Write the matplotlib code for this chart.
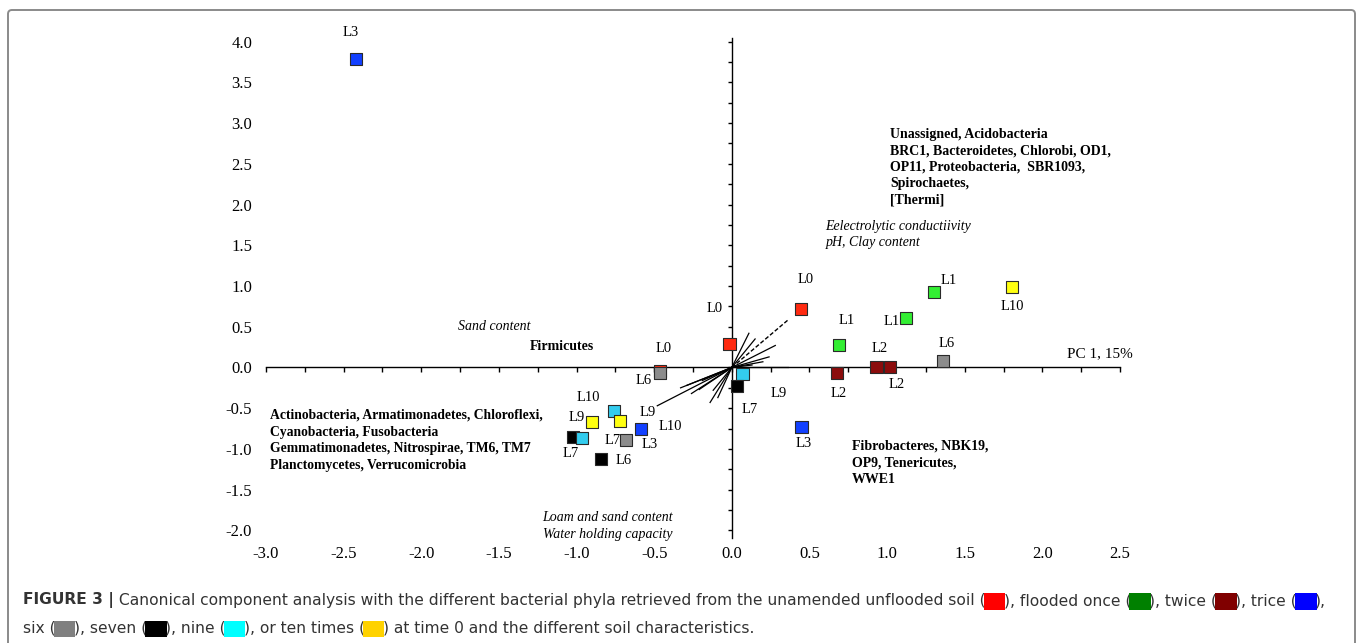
import matplotlib
matplotlib.use('Agg')
import matplotlib.pyplot as plt
import numpy as np
from matplotlib.patches import FancyBboxPatch
from matplotlib.ticker import MultipleLocator, FormatStrFormatter
from matplotlib.transforms import IdentityTransform

plt.rcParams['font.family'] = ['Liberation Serif', 'DejaVu Serif']
plt.rcParams['axes.unicode_minus'] = False

# flooding treatments: marker fill / caption swatch colour
marker_colors = {
    'unflooded': '#ff2a10', 'once': '#33ee33', 'twice': '#8b0c0c',
    'trice': '#1240ff', 'six': '#8c8c8c', 'seven': '#000000',
    'nine': '#33ccee', 'ten': '#ffff10',
}
swatch_colors = {
    'unflooded': '#ff0000', 'once': '#008000', 'twice': '#800000',
    'trice': '#0000ff', 'six': '#808080', 'seven': '#000000',
    'nine': '#00ffff', 'ten': '#ffd200',
}

# site scores
site_x = [-2.418, 0.443, -0.015, -0.46, -0.464, 0.689, 1.121, 1.300,
          1.806, 0.678, 0.932, 1.018, 1.360, 0.069, 0.034, 0.449,
          -0.760, -0.902, -0.722, -1.024, -0.966, -0.683, -0.586, -0.844]
site_y = [3.784, 0.718, 0.289, -0.045, -0.064, 0.280, 0.611, 0.923,
          0.985, -0.071, 0.010, 0.002, 0.076, -0.080, -0.227, -0.727,
          -0.534, -0.669, -0.657, -0.853, -0.866, -0.890, -0.755, -1.123]
site_group = ['trice', 'unflooded', 'unflooded', 'unflooded', 'six',
              'once', 'once', 'once', 'ten', 'twice', 'twice', 'twice',
              'six', 'nine', 'seven', 'trice', 'nine', 'ten', 'ten',
              'seven', 'nine', 'six', 'trice', 'seven']
site_label = ['L3', 'L0', 'L0', 'L0', 'L6', 'L1', 'L1', 'L1', 'L10',
              'L2', 'L2', 'L2', 'L6', 'L9', 'L7', 'L3', 'L10', 'L9', 'L9',
              'L7', 'L10', 'L7', 'L3', 'L6']
# where each label sits relative to its square, pixels (right, down)
label_offsets = [(-6, -27), (5, -29), (-15, -35), (3, -23), (-16, 8),
                 (8, -24), (-14, 4), (15, -12), (0, 19), (2, 20), (3, -18),
                 (7, 17), (4, -18), (36, 20), (13, 24), (2, 17), (-25, -13),
                 (-15, -4), (28, -8), (-2, 17), (89, -12), (-13, 1),
                 (9, 16), (23, 2)]

# biplot arrows for phyla / soil properties
vec_x = [0.11, 0.15, 0.28, 0.24, 0.20, 0.13, 0.36,
         -0.48, -0.29, -0.26, -0.19, -0.14, -0.12, -0.21, -0.09, -0.33]
vec_y = [0.42, 0.35, 0.27, 0.13, 0.07, 0.03, 0.0,
         -0.47, -0.22, -0.32, -0.16, -0.43, -0.28, -0.27, -0.37, -0.25]
dashed_x = [0.36]
dashed_y = [0.58]

fig = plt.figure(figsize=(13.6, 6.43), dpi=100)

# rounded panel border
frame = FancyBboxPatch((8, -30), 1347, 663, boxstyle='round,pad=0,rounding_size=4',
                       transform=IdentityTransform(), fc='none', ec='#8a8a8a',
                       lw=1.4, zorder=0)
fig.patches.append(frame)

ax = fig.add_axes([0.19559, 0.16376, 0.62794, 0.77776])
ax.set_xlim(-3.0, 2.5)
ax.set_ylim(-2.09, 4.05)

# axes cross through the origin; labels stay on the outer edge
ax.spines['left'].set_visible(False)
ax.spines['bottom'].set_visible(False)
ax.spines['top'].set_position(('data', 0))
ax.spines['right'].set_position(('data', 0))
for s in ('top', 'right'):
    ax.spines[s].set_linewidth(1.0)

ax.xaxis.set_minor_locator(MultipleLocator(0.25))
ax.yaxis.set_minor_locator(MultipleLocator(0.25))
ax.xaxis.remove_overlapping_locs = False
ax.yaxis.remove_overlapping_locs = False
ax.set_xticks(np.arange(-3.0, 2.51, 0.5))
ax.set_yticks(np.arange(-2.0, 4.01, 0.5))
ax.xaxis.set_major_formatter(FormatStrFormatter('%.1f'))
ax.yaxis.set_major_formatter(FormatStrFormatter('%.1f'))
ax.tick_params(axis='x', which='major', bottom=True, top=False, length=0,
               labelsize=12, pad=6)
ax.tick_params(axis='y', which='major', left=True, right=False, length=0,
               labelsize=12, pad=10)
ax.tick_params(axis='x', which='minor', bottom=False, top=True,
               direction='in', length=3.5, width=1.0)
ax.tick_params(axis='y', which='minor', left=False, right=True,
               direction='in', length=3.0, width=1.0)

# arrows from the origin
for vx, vy in zip(vec_x, vec_y):
    ax.plot([0, vx], [0, vy], color='black', lw=0.9, zorder=2)
for vx, vy in zip(dashed_x, dashed_y):
    ax.plot([0, vx], [0, vy], color='black', lw=1.0, ls=(0, (3, 1.5)), zorder=2)

# site squares
ax.scatter(site_x, site_y, marker='s', s=76,
           c=[marker_colors[g] for g in site_group],
           edgecolors='#2a2a2a', linewidths=0.8, zorder=3, clip_on=False)
for x, y, lab, (dx, dy) in zip(site_x, site_y, site_label, label_offsets):
    ax.annotate(lab, (x, y), xytext=(dx, -dy), textcoords='offset pixels',
                ha='center', va='center', fontsize=10.5, zorder=4)

# phyla and soil property annotations
note = dict(fontsize=10, linespacing=1.33)
ax.text(1.018, 2.94, 'Unassigned, Acidobacteria\nBRC1, Bacteroidetes, Chlorobi, OD1,\n'
        'OP11, Proteobacteria,  SBR1093,\nSpirochaetes,\n[Thermi]',
        fontweight='bold', ha='left', va='top', **note)
ax.text(0.604, 1.81, 'Eelectrolytic conductiivity\npH, Clay content',
        style='italic', ha='left', va='top', **note)
ax.text(-1.533, 0.509, 'Sand content', fontsize=10, style='italic',
        ha='center', va='center')
ax.text(-1.095, 0.252, 'Firmicutes', fontsize=10, fontweight='bold',
        ha='center', va='center')
ax.text(2.158, 0.166, 'PC 1, 15%', fontsize=11, ha='left', va='center')
ax.text(-2.977, -0.51, 'Actinobacteria, Armatimonadetes, Chloroflexi,\n'
        'Cyanobacteria, Fusobacteria\nGemmatimonadetes, Nitrospirae, TM6, TM7\n'
        'Planctomycetes, Verrucomicrobia',
        fontweight='bold', ha='left', va='top', fontsize=9.8, linespacing=1.35)
ax.text(0.775, -0.89, 'Fibrobacteres, NBK19,\nOP9, Tenericutes,\nWWE1',
        fontweight='bold', ha='left', va='top', **note)
ax.text(-0.799, -1.765, 'Loam and sand content\nWater holding capacity',
        style='italic', ha='center', va='top', **note)

# caption, drawn piece by piece so the colour swatches sit inline
cap_font = ['DejaVu Sans']
cap_size = 11.15
cap_color = '#333333'
block = '\u2588\u2588'

line1 = [('FIGURE 3 |', 'bold', None),
         (' Canonical component analysis with the different bacterial phyla '
          'retrieved from the unamended unflooded soil (', 'normal', None),
         (block, 'normal', 'unflooded'), ('), flooded once (', 'normal', None),
         (block, 'normal', 'once'), ('), twice (', 'normal', None),
         (block, 'normal', 'twice'), ('), trice (', 'normal', None),
         (block, 'normal', 'trice'), ('),', 'normal', None)]
line2 = [('six (', 'normal', None), (block, 'normal', 'six'),
         ('), seven (', 'normal', None), (block, 'normal', 'seven'),
         ('), nine (', 'normal', None), (block, 'normal', 'nine'),
         ('), or ten times (', 'normal', None), (block, 'normal', 'ten'),
         (') at time 0 and the different soil characteristics.', 'normal', None)]


def caption_line(pieces, x_px, y_px):
    prev = None
    for txt, weight, grp in pieces:
        color = swatch_colors[grp] if grp else cap_color
        kw = dict(fontsize=cap_size, fontweight=weight, color=color,
                  family=cap_font, annotation_clip=False)
        if grp:
            kw['fontsize'] = 8.4
            kw['bbox'] = dict(boxstyle='square,pad=0.14', fc=color, ec='none')
        if prev is None:
            prev = ax.annotate(txt, (x_px, y_px), xycoords='figure pixels',
                               ha='left', va='center', **kw)
        else:
            prev = ax.annotate(txt, (1, 0), xycoords=prev,
                               ha='left', va='bottom', **kw)


caption_line(line1, 23, 643 - 600)
caption_line(line2, 23, 643 - 628)

fig.savefig('out.png', dpi=100)
